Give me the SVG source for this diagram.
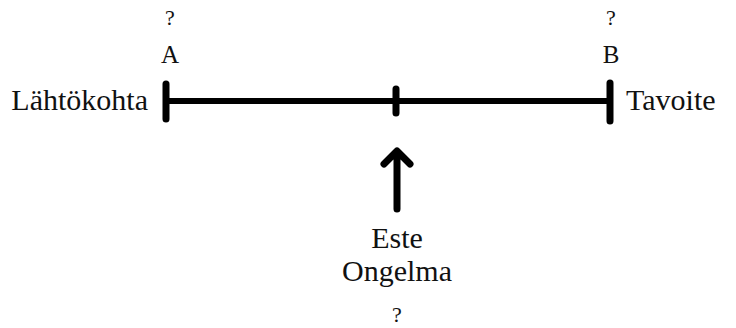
<svg xmlns="http://www.w3.org/2000/svg" width="736" height="328" viewBox="0 0 736 328">
<style>
text{font-family:'Liberation Serif','DejaVu Serif',serif;fill:#111;}
.lbl{font-size:30px;}
.pt{font-size:25px;text-anchor:middle;}
.q{font-size:22px;text-anchor:middle;}
.ln{stroke:#000;stroke-width:6;stroke-linecap:round;fill:none;}
.tk{stroke:#000;stroke-width:7;stroke-linecap:round;fill:none;}
</style>
<rect width="736" height="328" fill="#fff"/>
<g id="connectors">
<line class="ln" x1="166" y1="101" x2="610" y2="101"/>
<line class="tk" x1="166" y1="84" x2="166" y2="119"/>
<line class="tk" x1="396" y1="89" x2="396" y2="113"/>
<line class="tk" x1="610" y1="83" x2="610" y2="121"/>
<path class="tk" d="M397 209 L397 152 M384 164 L397 151 L410 164" stroke-linejoin="round"/>
</g>
<g id="node-A">
<text class="q" x="170" y="25">?</text>
<text class="pt" x="170" y="63">A</text>
</g>
<g id="node-B">
<text class="q" x="611" y="25">?</text>
<text class="pt" x="611" y="63">B</text>
</g>
<g id="node-lahtokohta"><text class="lbl" x="148" y="110" text-anchor="end">Lähtökohta</text></g>
<g id="node-tavoite"><text class="lbl" x="626" y="110">Tavoite</text></g>
<g id="node-este">
<text class="lbl" x="397" y="248" text-anchor="middle">Este</text>
<text class="lbl" x="397" y="281" text-anchor="middle">Ongelma</text>
<text class="q" x="397" y="322">?</text>
</g>
</svg>
